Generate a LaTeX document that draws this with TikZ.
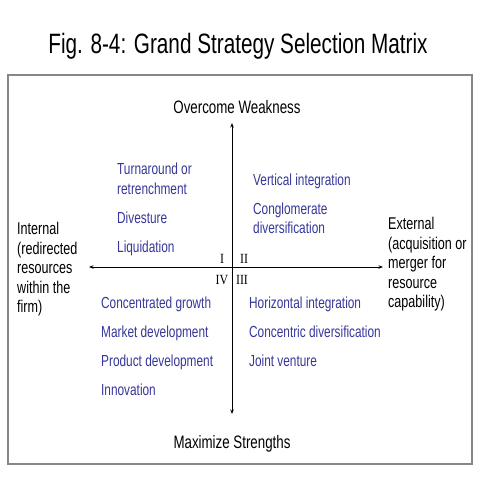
\documentclass[tikz,border=0pt]{standalone}
\usepackage{fontspec}
\setmainfont[FakeStretch=0.74]{Liberation Sans}
\newfontfamily\numfont[FakeStretch=0.85]{Liberation Serif}
\usetikzlibrary{arrows.meta}
\definecolor{stratblue}{RGB}{55,55,155}
\definecolor{framegray}{RGB}{135,135,135}
\tikzset{
  strat/.style={anchor=base west, inner sep=0pt, text=stratblue, font=\fontsize{16}{19}\selectfont},
  axislabel/.style={anchor=base, inner sep=0pt, font=\fontsize{18}{21}\selectfont},
  sidelabel/.style={anchor=base west, inner sep=0pt, font=\fontsize{17}{20}\selectfont},
  quad/.style={anchor=base, inner sep=0pt, font=\numfont\fontsize{14}{16}\selectfont},
  axis/.style={line width=0.8pt, {Stealth[length=4.5pt,width=3.5pt]}-{Stealth[length=4.5pt,width=3.5pt]}},
}
\begin{document}
\begin{tikzpicture}[x=1pt,y=-1pt]
\useasboundingbox (0,0) rectangle (480,480);
\fill[white] (0,0) rectangle (480,480);
\node[anchor=base, inner sep=0pt, font=\fontsize{28}{32}\selectfont] (title) at (238,53) {Fig. 8-4: Grand Strategy Selection Matrix};
\draw[framegray, line width=2pt] (7.5,74.5) rectangle (472,464);

\coordinate (L) at (89,267);
\coordinate (R) at (383,267);
\coordinate (T) at (232,123);
\coordinate (B) at (232,414);
\draw[axis] (L) -- (R);
\draw[axis] (T) -- (B);

\node[axislabel] (top) at (237,113) {Overcome Weakness};
\node[axislabel] (bot) at (232,448) {Maximize Strengths};

\node[sidelabel] (in1) at (17,234.5) {Internal};
\node[sidelabel] (in2) at (17,254) {(redirected};
\node[sidelabel] (in3) at (17,273.5) {resources};
\node[sidelabel] (in4) at (17,293) {within the};
\node[sidelabel] (in5) at (17,312.5) {firm)};

\node[sidelabel] (ex1) at (388,229.5) {External};
\node[sidelabel] (ex2) at (388,249) {(acquisition or};
\node[sidelabel] (ex3) at (388,268.5) {merger for};
\node[sidelabel] (ex4) at (388,288) {resource};
\node[sidelabel] (ex5) at (388,307.5) {capability)};

\node[strat] (q1a) at (117,174) {Turnaround or};
\node[strat] (q1b) at (117,194) {retrenchment};
\node[strat] (q1c) at (117,223) {Divesture};
\node[strat] (q1d) at (117,252) {Liquidation};

\node[strat] (q2a) at (253,185) {Vertical integration};
\node[strat] (q2b) at (253,214) {Conglomerate};
\node[strat] (q2c) at (253,233) {diversification};

\node[strat] (q4a) at (101,308) {Concentrated growth};
\node[strat] (q4b) at (101,337) {Market development};
\node[strat] (q4c) at (101,366) {Product development};
\node[strat] (q4d) at (101,395) {Innovation};

\node[strat] (q3a) at (249,308) {Horizontal integration};
\node[strat] (q3b) at (249,337) {Concentric diversification};
\node[strat] (q3c) at (249,366) {Joint venture};

\node[quad] (n1) at (222,263) {I};
\node[quad] (n2) at (244,263) {II};
\node[quad] (n4) at (222,284) {IV};
\node[quad] (n3) at (242,284) {III};
\end{tikzpicture}
\end{document}
